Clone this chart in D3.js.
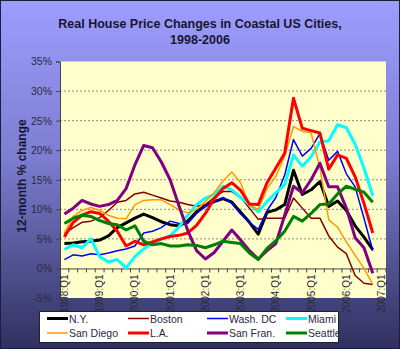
<!DOCTYPE html>
<html>
<head>
<meta charset="utf-8">
<script src="https://cdn.jsdelivr.net/npm/d3@7"></script>
<style>
  html, body { margin: 0; padding: 0; background: #fff; }
  #root { width: 400px; height: 349px; }
  text { font-family: "Liberation Sans", Arial, sans-serif; }
</style>
</head>
<body>
<div id="root"></div>
<script>
'use strict';

// quarters on the category axis (last one has no data)
var quarters = [
  '1998:Q1','1998:Q2','1998:Q3','1998:Q4','1999:Q1','1999:Q2','1999:Q3','1999:Q4',
  '2000:Q1','2000:Q2','2000:Q3','2000:Q4','2001:Q1','2001:Q2','2001:Q3','2001:Q4',
  '2002:Q1','2002:Q2','2002:Q3','2002:Q4','2003:Q1','2003:Q2','2003:Q3','2003:Q4',
  '2004:Q1','2004:Q2','2004:Q3','2004:Q4','2005:Q1','2005:Q2','2005:Q3','2005:Q4',
  '2006:Q1','2006:Q2','2006:Q3','2006:Q4','2007:Q1'
];
var yTicks = [-5, 0, 5, 10, 15, 20, 25, 30, 35];

var cities = ['N.Y.', 'Boston', 'Wash. DC', 'Miami', 'San Diego', 'L.A.', 'San Fran.', 'Seattle'];

var ny = [4.2,4.3,4.5,4.6,4.8,5.5,6.9,7.7,8.5,9.2,8.6,7.9,7.4,7.2,8.0,9.6,10.6,11.3,11.8,11.2,9.5,7.8,5.8,9.5,9.9,10.8,16.6,12.5,13.3,14.7,10.5,11.4,9.8,7.2,5.3,3.2];
var boston = [5.9,6.9,7.8,8.0,8.6,9.8,11.2,11.5,12.6,12.9,12.4,11.9,11.4,11.2,10.8,10.5,10.8,12.0,13.0,13.0,12.0,10.2,8.3,8.5,8.5,8.5,11.9,10.2,8.5,8.5,5.5,3.6,2.5,-1.2,-2.5,-2.7];
var washDC = [1.5,2.3,2.1,2.5,2.3,2.6,3.0,3.3,3.8,6.0,6.3,6.9,8.0,7.6,7.6,9.3,10.5,11.3,12.0,11.0,9.2,7.8,6.6,9.8,12.0,15.8,21.8,19.0,20.3,22.8,18.3,19.8,16.0,13.8,8.5,3.0];
var miami = [3.2,4.0,3.5,5.0,2.0,1.1,1.5,0.1,2.0,3.3,4.3,4.9,5.5,7.0,9.0,10.8,11.9,12.5,13.9,13.3,12.0,10.8,9.6,11.3,12.8,14.2,19.2,17.3,18.9,21.4,21.6,24.3,23.8,21.0,17.0,12.3];
var sanDiego = [6.0,8.8,9.8,10.3,9.8,9.0,8.5,8.4,10.8,11.5,11.6,11.6,10.8,9.9,9.4,10.0,11.3,12.8,14.8,16.3,14.5,10.6,10.0,13.5,15.6,19.0,24.0,23.2,22.9,17.0,8.2,7.0,4.5,2.2,0.0,-2.7];
var la = [5.3,7.8,9.0,9.6,9.3,8.0,6.3,3.8,4.6,4.0,4.5,5.0,5.4,5.6,6.0,7.3,9.3,11.8,13.5,14.5,13.2,10.9,10.8,14.5,17.0,19.5,28.8,23.7,23.3,22.9,16.8,19.2,18.6,15.5,11.0,6.0];
var sanFran = [9.2,10.2,11.5,10.9,10.5,10.8,11.5,13.5,17.5,20.8,20.4,18.0,15.0,10.6,6.4,3.0,1.6,2.7,4.6,6.5,4.8,3.0,1.6,3.0,4.2,9.0,13.9,12.8,15.0,17.8,13.8,13.8,10.2,5.2,3.5,-0.8];
var seattle = [7.6,8.5,9.0,8.8,8.1,7.6,7.4,6.5,7.2,4.6,4.0,4.2,3.8,3.8,4.0,3.9,3.5,4.0,4.6,4.4,4.2,2.6,1.5,3.4,4.7,6.3,8.8,8.0,9.3,10.8,10.9,12.6,13.9,13.4,12.9,11.2];

var seriesValues = [ny, boston, washDC, miami, sanDiego, la, sanFran, seattle];
var colors = ['#000000', '#800000', '#0000ff', '#00ffff', '#ff9900', '#ff0000', '#800080', '#008000'];
var widths = [3, 1.5, 1.5, 3, 1.5, 3, 3, 3];

var width = 400;
var height = 349;
var plot = { left: 60, right: 386, top: 61.5, bottom: 298 };

var svg = d3.select('#root')
  .append('svg')
  .attr('width', width)
  .attr('height', height);

var grad = svg.append('defs')
  .append('linearGradient')
  .attr('id', 'bg')
  .attr('x1', 0).attr('y1', 0)
  .attr('x2', 0).attr('y2', 1);
grad.append('stop').attr('offset', '0%').attr('stop-color', '#9d9dff');
grad.append('stop').attr('offset', '45%').attr('stop-color', '#7d7dd2');
grad.append('stop').attr('offset', '100%').attr('stop-color', '#30305f');

svg.append('rect')
  .attr('x', 0.5).attr('y', 0.5)
  .attr('width', width - 1).attr('height', height - 1)
  .attr('fill', 'url(#bg)')
  .attr('stroke', '#1c1c3c');

var xScale = d3.scaleBand()
  .domain(quarters)
  .range([plot.left, plot.right]);

var yScale = d3.scaleLinear()
  .domain([-5, 35])
  .range([plot.bottom, plot.top]);

var cx = function(i) { return xScale(quarters[i]) + xScale.bandwidth() / 2; };

// plot area
svg.append('rect')
  .attr('x', plot.left).attr('y', plot.top)
  .attr('width', plot.right - plot.left)
  .attr('height', plot.bottom - plot.top)
  .attr('fill', '#ffffcc');

svg.append('g')
  .selectAll('line')
  .data(yTicks.filter(d => d > 0 && d < 35))
  .enter()
  .append('line')
  .attr('x1', plot.left).attr('x2', plot.right)
  .attr('y1', d => yScale(d)).attr('y2', d => yScale(d))
  .attr('stroke', '#8c8c80')
  .attr('stroke-width', 1)
  .attr('stroke-dasharray', '2,2');

// y axis
var yAxis = d3.axisLeft(yScale)
  .tickValues(yTicks)
  .tickSize(4)
  .tickPadding(4)
  .tickFormat(d => d + '%');

var yg = svg.append('g')
  .attr('transform', `translate(${plot.left},0)`)
  .call(yAxis);
yg.select('.domain').attr('stroke', '#444');
yg.selectAll('.tick line').attr('stroke', '#444');
yg.selectAll('.tick text')
  .attr('fill', '#2a2a3a')
  .style('font-size', '10.5px')
  .style('font-family', '"Liberation Sans", Arial, sans-serif');

// x axis at 0%
var xAxis = d3.axisBottom(xScale)
  .tickSize(0)
  .tickFormat('');

var xg = svg.append('g')
  .attr('transform', `translate(0,${yScale(0)})`)
  .call(xAxis);
xg.select('.domain').attr('stroke', '#444');

// category tick marks at band edges
var edges = quarters.map(q => xScale(q)).concat([plot.right]);
xg.selectAll('.edge')
  .data(edges)
  .enter()
  .append('line')
  .attr('class', 'edge')
  .attr('x1', d => d).attr('x2', d => d)
  .attr('y1', 0).attr('y2', 4)
  .attr('stroke', '#444');

xg.selectAll('.qlabel')
  .data(quarters.filter((q, i) => i % 4 === 0))
  .enter()
  .append('text')
  .attr('class', 'qlabel')
  .attr('transform', d => `translate(${xScale(d) + xScale.bandwidth() / 2 + 3.5},6) rotate(-90)`)
  .attr('text-anchor', 'end')
  .attr('fill', '#2a2a3a')
  .style('font-size', '10px')
  .text(d => d);

// series
var line = d3.line()
  .x((d, i) => cx(i))
  .y(d => yScale(d));

svg.append('g')
  .selectAll('path')
  .data(seriesValues)
  .enter()
  .append('path')
  .attr('d', d => line(d))
  .attr('fill', 'none')
  .attr('stroke', (d, i) => colors[i])
  .attr('stroke-width', (d, i) => widths[i])
  .attr('stroke-linejoin', 'round');

// titles
var title = svg.append('text')
  .attr('x', 200)
  .attr('text-anchor', 'middle')
  .attr('fill', '#161630')
  .style('font-size', '12.5px')
  .style('font-weight', 'bold');
title.append('tspan').attr('x', 200).attr('y', 28).text('Real House Price Changes in Coastal US Cities,');
title.append('tspan').attr('x', 200).attr('y', 44).text('1998-2006');

svg.append('text')
  .attr('transform', 'translate(26,176) rotate(-90)')
  .attr('text-anchor', 'middle')
  .attr('fill', '#161630')
  .style('font-size', '12px')
  .style('font-weight', 'bold')
  .text('12-month % change');

// legend
var legend = svg.append('g');
legend.append('rect')
  .attr('x', 39.5).attr('y', 311.5)
  .attr('width', 299).attr('height', 31)
  .attr('fill', '#fff')
  .attr('stroke', '#222');

var colX = [47, 128, 207, 286];
var rowY = [318.5, 333];

var items = legend.selectAll('.item')
  .data(cities)
  .enter()
  .append('g')
  .attr('class', 'item')
  .attr('transform', (d, i) => `translate(${colX[i % 4]},${rowY[Math.floor(i / 4)]})`);

items.append('line')
  .attr('x1', 0).attr('x2', 21)
  .attr('y1', 0).attr('y2', 0)
  .attr('stroke', (d, i) => colors[i])
  .attr('stroke-width', (d, i) => widths[i]);

items.append('text')
  .attr('x', 22)
  .attr('y', 4)
  .attr('fill', '#2a2a3a')
  .style('font-size', '10.5px')
  .text(d => d);
</script>
</body>
</html>
